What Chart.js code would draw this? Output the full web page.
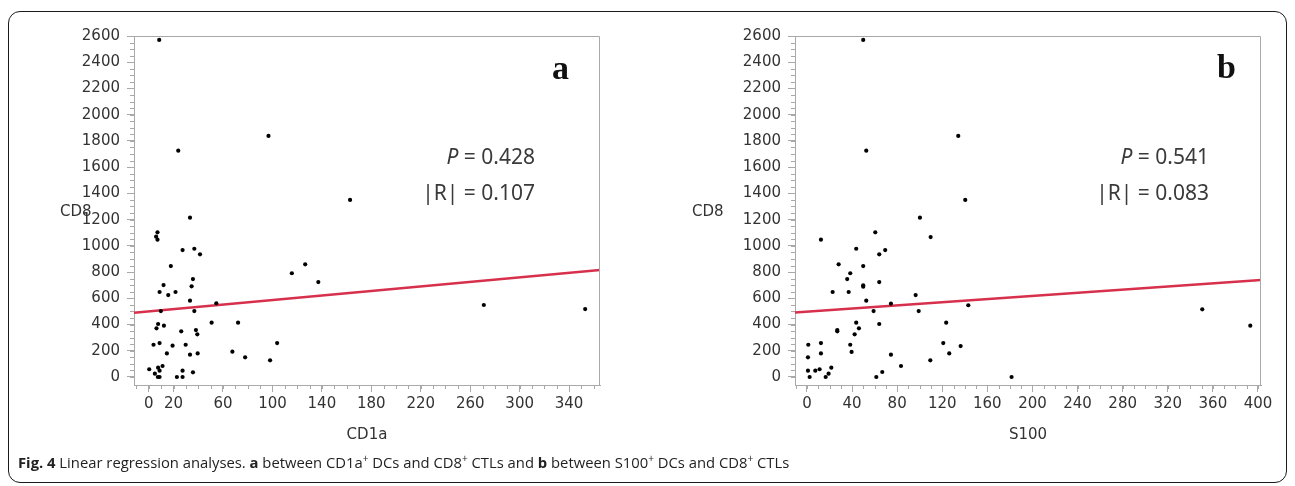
<!DOCTYPE html>
<html><head><meta charset="utf-8">
<script src="https://cdn.jsdelivr.net/npm/chart.js@4/dist/chart.umd.min.js"></script>
<style>
html,body{margin:0;padding:0;background:#fff;}
body{width:1295px;height:486px;position:relative;overflow:hidden;}
.frame{position:absolute;left:8px;top:11px;width:1279px;height:472px;border:1.5px solid #1a1a1a;border-radius:12px;box-sizing:border-box;}
canvas{position:absolute;top:0;}
#cA{left:0;} #cB{left:640px;}
.ylab{position:absolute;font:15px "DejaVu Sans";color:#333;line-height:18px;}
.stat{position:absolute;font:21px "Noto Sans";color:#3a3a3a;text-align:right;white-space:nowrap;line-height:26px;}
.letter{position:absolute;font:bold 34px "Liberation Serif";color:#111;line-height:34px;}
.caption{position:absolute;left:18px;top:452px;font:14.8px "Open Sans";color:#222;white-space:nowrap;line-height:20px;}
.caption sup{font-size:10px;vertical-align:6px;line-height:0;}
</style></head>
<body>
<div class="frame"></div>
<canvas id="cA" width="640" height="486"></canvas>
<canvas id="cB" width="655" height="486"></canvas>
<div class="ylab" style="left:60px;top:202px;">CD8</div>
<div class="ylab" style="left:692px;top:202px;">CD8</div>
<div class="stat" style="right:760px;top:143px;"><i>P</i> = 0.428</div>
<div class="stat" style="right:760px;top:179px;">|R| = 0.107</div>
<div class="stat" style="right:86px;top:143px;"><i>P</i> = 0.541</div>
<div class="stat" style="right:86px;top:179px;">|R| = 0.083</div>
<div class="letter" style="left:552px;top:51px;">a</div>
<div class="letter" style="left:1217px;top:50px;">b</div>
<div class="caption"><b>Fig. 4</b> Linear regression analyses. <b>a</b> between CD1a<sup>+</sup> DCs and CD8<sup>+</sup> CTLs and <b>b</b> between S100<sup>+</sup> DCs and CD8<sup>+</sup> CTLs</div>
<script>
// ---- data ----
const cd1aValues = [8.4,23.8,96.8,162.8,33.3,7.0,5.9,7.0,27.3,36.8,41.4,17.8,115.7,126.5,137.1,35.7,34.6,11.9,8.7,15.7,21.6,33.3,54.6,36.8,9.7,7.5,6.2,12.2,50.8,72.2,26.2,38.1,39.2,3.8,8.7,19.2,29.8,14.6,33.3,39.5,67.6,77.9,98.1,103.8,0.3,4.9,7.5,8.7,11.1,7.3,8.7,22.7,27.3,27.3,35.7,271,353];
const cd8ValuesA = [2570,1726,1838,1350,1215,1103,1070,1047,968,978,935,846,791,859,724,747,691,701,648,625,648,582,562,503,503,404,371,391,414,414,348,358,325,246,259,239,246,180,170,180,193,150,127,259,59,25,71,48,84,0,0,0,0,48,36,549,518];
const s100Values = [49.9,52.6,134.2,140.4,100.2,12.4,109.7,60.6,43.7,64.1,69.4,28.1,49.9,38.4,35.7,49.9,49.9,64.1,22.8,37.0,96.4,52.6,74.5,59.1,99.1,143.1,43.7,64.1,123.5,26.9,26.9,46.1,42.3,1.2,12.4,38.4,120.9,136.3,0.9,12.4,39.6,126.2,74.5,109.4,83.4,0.9,7.4,11.2,21.6,19.2,16.6,2.4,61.5,66.8,350.6,393.2,181.5];
const cd8ValuesB = [2570,1726,1838,1350,1215,1047,1067,1103,978,935,968,859,846,791,747,699,689,724,648,648,625,582,559,503,503,547,414,404,414,358,348,371,325,246,259,246,259,236,150,180,191,180,170,127,84,48,48,59,71,25,0,0,0,38,516,391,0];
// regression line end points
const fitLineAX = [-12, 365];
const fitLineAY = [490, 816];
const fitLineBX = [-10.6, 402.7];
const fitLineBY = [492, 740];
// tick labels
const yTicks = [0,200,400,600,800,1000,1200,1400,1600,1800,2000,2200,2400,2600];
const xTicksA = [0,20,60,100,140,180,220,260,300,340];
const xTicksB = [0,40,80,120,160,200,240,280,320,360,400];

const AX = '#a9a9a9';
const TXT = '#333';
const tickFont = {family:'DejaVu Sans', size:15};

function range(a,b,s){const r=[];for(let v=a;v<=b+1e-9;v+=s)r.push(v);return r;}

const frameTicks = {
  id:'frameTicks',
  afterDatasetsDraw(chart, args, opts){
    const {ctx, chartArea:{left,right,top,bottom}} = chart;
    const x = chart.scales.x, y = chart.scales.y;
    ctx.save();
    ctx.strokeStyle = AX; ctx.lineWidth = 1;
    ctx.beginPath();
    ctx.moveTo(left, top+0.5); ctx.lineTo(right-0.5, top+0.5); ctx.lineTo(right-0.5, bottom);
    ctx.stroke();
    ctx.beginPath();
    opts.xMinor.forEach(v=>{ if(v<x.min||v>x.max) return; const px=Math.round(x.getPixelForValue(v))+0.5; ctx.moveTo(px,bottom); ctx.lineTo(px,bottom+4);});
    opts.yMinor.forEach(v=>{ if(v<y.min||v>y.max) return; const py=Math.round(y.getPixelForValue(v))+0.5; ctx.moveTo(left,py); ctx.lineTo(left-4,py);});
    ctx.stroke();
    ctx.restore();
  }
};

function build(id, xs, ys, fx, fy, xmin, xmax, xTicks, xTitle, yWidth, padRight){
  const pts = xs.map((v,i)=>({x:v, y:ys[i]}));
  const fit = fx.map((v,i)=>({x:v, y:fy[i]}));
  return new Chart(document.getElementById(id), {
    type:'scatter',
    data:{datasets:[
      {data:pts, pointRadius:2.1, pointBackgroundColor:'#000', pointBorderWidth:0, order:0},
      {type:'line', data:fit, borderColor:'#d7304c', borderWidth:2.6, pointRadius:0, fill:false, order:1}
    ]},
    options:{
      responsive:false, animation:false, devicePixelRatio:1,
      layout:{padding:{left:0, top:36, right:padRight, bottom:26}},
      plugins:{legend:{display:false}, tooltip:{enabled:false},
        frameTicks:{xMinor:range(-10, 400, 10), yMinor:range(0, 2600, 50)}},
      scales:{
        x:{type:'linear', min:xmin, max:xmax,
          afterBuildTicks:s=>{s.ticks = xTicks.map(v=>({value:v}));},
          afterFit:s=>{s.height = 75;},
          ticks:{autoSkip:false, maxRotation:0, padding:3, color:TXT, font:tickFont, callback:v=>String(v)},
          grid:{drawOnChartArea:false, tickLength:7, color:AX},
          border:{color:AX},
          title:{display:true, text:xTitle, color:TXT, font:tickFont, padding:{top:0,bottom:16}}
        },
        y:{type:'linear', min:-61, max:2600,
          afterBuildTicks:s=>{s.ticks = yTicks.map(v=>({value:v}));},
          afterFit:s=>{s.width = yWidth;},
          ticks:{autoSkip:false, padding:7, color:TXT, font:tickFont, callback:v=>String(v)},
          grid:{drawOnChartArea:false, tickLength:7, color:AX},
          border:{color:AX}
        }
      }
    },
    plugins:[frameTicks]
  });
}

build('cA', cd1aValues, cd8ValuesA, fitLineAX, fitLineAY, -12, 365, xTicksA, 'CD1a', 134, 40);
build('cB', s100Values, cd8ValuesB, fitLineBX, fitLineBY, -10.6, 402.7, xTicksB, 'S100', 155, 34);
</script>
</body></html>
